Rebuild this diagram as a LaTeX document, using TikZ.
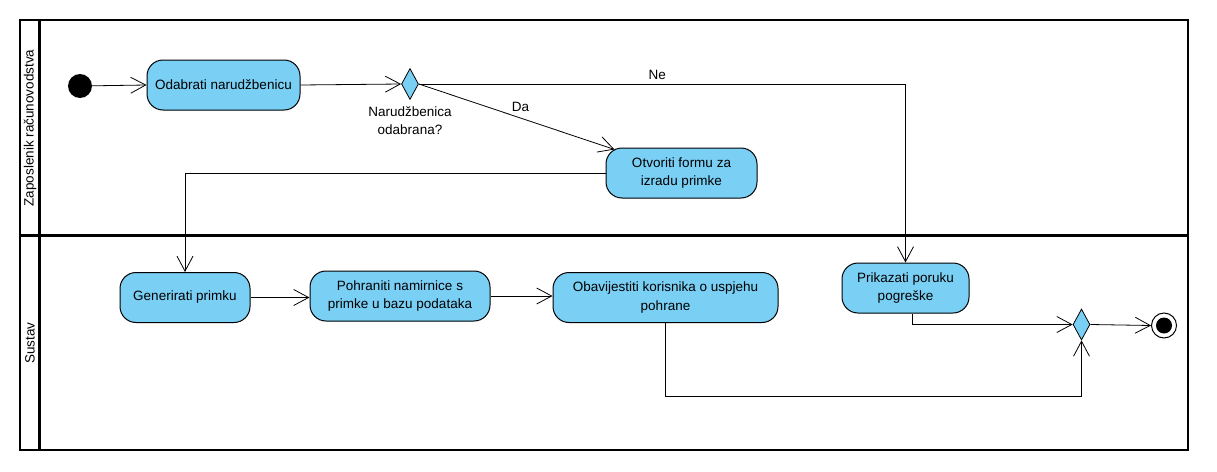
\documentclass[tikz,border=0pt]{standalone}
\usepackage{fontspec}
\setmainfont{Liberation Sans}
\usetikzlibrary{arrows.meta,shapes.geometric,calc}
\definecolor{actfill}{RGB}{122,207,245}
\begin{document}
\begin{tikzpicture}[x=1pt,y=-1pt,
  font=\fontsize{13.5}{18.5}\selectfont,
  act/.style={draw, line width=1pt, fill=actfill, rounded corners=16pt, align=center, inner sep=2pt},
  dec/.style={draw, line width=0.8pt, fill=actfill, diamond, inner sep=0pt, minimum width=17pt, minimum height=31pt},
  flow/.style={line width=0.8pt, -{Straight Barb[length=15pt,width=16pt,line width=0.8pt]}},
  plain/.style={line width=0.8pt},
  lane/.style={line width=3pt},
  lanelbl/.style={rotate=90}
]
\useasboundingbox (0,0) rectangle (1217,471);
% swimlanes
\draw[line width=2pt] (20,20) rectangle (1188,450);
\draw[lane] (39,20) -- (39,450);
\draw[lane] (20,235) -- (1188,235);
\node[lanelbl] (l1) at (30,128) {Zaposlenik računovodstva};
\node[lanelbl] (l2) at (30,343) {Sustav};

% nodes
\node[circle, fill=black, minimum size=24pt, inner sep=0pt] (init) at (80,86) {};
\node[act, minimum width=153pt, minimum height=50pt] (odab) at (223.5,85) {Odabrati narudžbenicu};
\node[dec, label={[align=center, label distance=3pt]below:Narudžbenica\\odabrana?}] (d1) at (410,84) {};
\node[act, minimum width=151pt, minimum height=50pt] (otv) at (681.5,173) {Otvoriti formu za\\izradu primke};
\node[act, minimum width=130pt, minimum height=50pt] (gen) at (185,297.5) {Generirati primku};
\node[act, minimum width=180pt, minimum height=50pt] (poh) at (400,296) {Pohraniti namirnice s\\primke u bazu podataka};
\node[act, minimum width=225pt, minimum height=50pt] (obav) at (665.5,297.5) {Obavijestiti korisnika o uspjehu\\pohrane};
\node[act, minimum width=127pt, minimum height=50pt] (prik) at (905.5,288) {Prikazati poruku\\pogreške};
\node[dec] (d2) at (1081.5,324.5) {};
\node[circle, draw, line width=1pt, fill=white, minimum size=25pt, inner sep=0pt] (fin) at (1164,325.5) {};
\node[circle, fill=black, minimum size=16pt, inner sep=0pt] (finin) at (fin.center) {};
\coordinate (jb) at (1081.5,396);

% flows
\draw[flow] (init) -- (odab.west);
\draw[flow] (odab.east) -- (d1.west);
\draw[flow] (d1.east) -- node[pos=0.49, above=1pt] {Ne} (prik.north |- d1.east) -- (prik.north);
\draw[flow] (d1.east) -- node[pos=0.52, above=3pt] {Da} ([xshift=9pt,yshift=-2pt]otv.north west);
\draw[flow] (otv.west) -| (gen.north);
\draw[flow] (gen.east) -- (gen.east -| poh.west);
\draw[flow] (poh.east) -- (poh.east -| obav.west);
\draw[plain] (obav.south) |- (jb);
\draw[flow] (jb) -- (d2.south);
\draw[flow] ([xshift=6.5pt]prik.south) |- (d2.west);
\draw[flow] (d2.east) -- (fin.west);
\end{tikzpicture}
\end{document}
